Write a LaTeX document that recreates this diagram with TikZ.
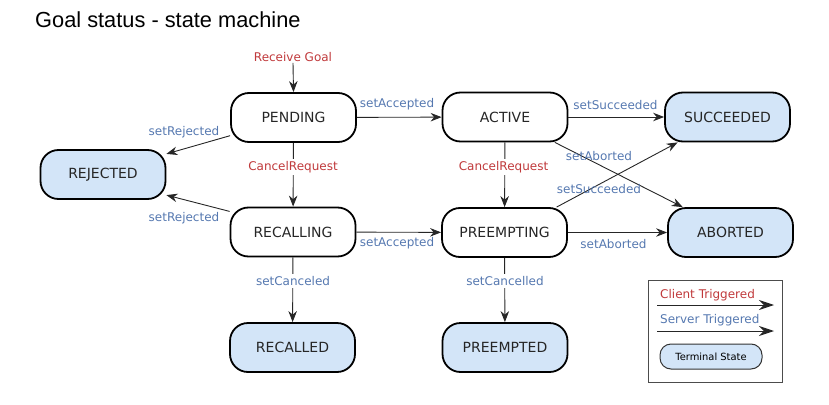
\documentclass[tikz,border=0pt]{standalone}
\usepackage{fontspec}
\setmainfont{DejaVu Sans}
\newfontfamily\titlefont{Liberation Sans}
\usetikzlibrary{arrows.meta}
\definecolor{clientred}{HTML}{C0393B}
\definecolor{serverblue}{HTML}{5578B0}
\definecolor{termfill}{HTML}{D3E5F8}
\begin{document}
\begin{tikzpicture}[x=1pt,y=-1pt,
  state/.style={draw=black,line width=1.8pt,rounded corners=18pt,minimum width=125pt,minimum height=49pt,inner sep=0pt,font=\fontsize{14}{16}\selectfont,text=black!85},
  terminal/.style={state,fill=termfill},
  trans/.style={draw=black!85,line width=0.9pt,-{Stealth[length=11pt,width=8.5pt]}},
  legarrow/.style={draw=black!85,line width=1pt,-{Stealth[length=15pt,width=10pt]}},
  clab/.style={text=clientred,font=\fontsize{12}{14}\selectfont,inner sep=1pt},
  slab/.style={text=serverblue,font=\fontsize{12}{14}\selectfont,inner sep=1pt},
  onl/.style={fill=white,inner sep=2pt}]
\useasboundingbox (0,0) rectangle (829,404);
\node[anchor=west,inner sep=0pt,font=\titlefont\fontsize{21.8}{24}\selectfont] (title) at (35,20) {Goal status - state machine};

\node[state] (pending) at (293.5,117.5) {PENDING};
\node[state] (active) at (505,117) {ACTIVE};
\node[terminal] (succeeded) at (727.5,117) {SUCCEEDED};
\node[terminal] (rejected) at (103,174.5) {REJECTED};
\node[state] (recalling) at (293,232) {RECALLING};
\node[state] (preempting) at (504.5,232.5) {PREEMPTING};
\node[terminal] (aborted) at (730.5,232.5) {ABORTED};
\node[terminal] (recalled) at (292.5,347.5) {RECALLED};
\node[terminal] (preempted) at (505,347.5) {PREEMPTED};

\node[clab] (recv) at (293,57) {Receive Goal};
\draw[trans] (recv.south) -- (pending.north);

\draw[trans] (pending) -- (active);
\node[slab] (lacc1) at (397,104) {setAccepted};
\draw[trans] (pending.196) -- (rejected.18);
\node[slab] (lrej1) at (184,132) {setRejected};
\draw[trans] (pending) -- (recalling);
\node[clab,onl] (lcan1) at (293,167) {CancelRequest};
\draw[trans] (recalling.162) -- (rejected.342);
\node[slab] (lrej2) at (184,218) {setRejected};
\draw[trans] (recalling) -- (preempting);
\node[slab] (lacc2) at (397,243) {setAccepted};
\draw[trans] (recalling) -- (recalled);
\node[slab,onl] (lcd) at (293,281) {setCanceled};

\draw[trans] (active) -- (succeeded);
\node[slab] (lsuc1) at (615.5,105) {setSucceeded};
\draw[trans] (active.-27.5) -- (aborted.152.7);
\node[slab] (labo1) at (599,156) {setAborted};
\draw[trans] (active) -- (preempting);
\node[clab,onl] (lcan2) at (503.5,167) {CancelRequest};
\draw[trans] (preempting.26.8) -- (succeeded.207.8);
\node[slab] (lsuc2) at (599,189) {setSucceeded};
\draw[trans] (preempting) -- (aborted);
\node[slab] (labo2) at (613.5,244) {setAborted};
\draw[trans] (preempting) -- (preempted);
\node[slab,onl] (lcl) at (505,281) {setCancelled};

% legend
\node[draw=black!70,line width=0.9pt,minimum width=134pt,minimum height=102pt,inner sep=0pt] (legend) at (715,331) {};
\node[clab,anchor=west] (lc) at (659,295) {Client Triggered};
\coordinate (lc1) at (657,305);
\coordinate (lc2) at (774,305);
\draw[legarrow] (lc1) -- (lc2);
\node[slab,anchor=west] (ls) at (659,320) {Server Triggered};
\coordinate (ls1) at (657,331);
\coordinate (ls2) at (774,331);
\draw[legarrow] (ls1) -- (ls2);
\node[draw=black!80,line width=1pt,fill=termfill,rounded corners=11pt,minimum width=102pt,minimum height=25pt,inner sep=0pt,font=\fontsize{9.9}{11}\selectfont] (term) at (711,356.5) {Terminal State};
\end{tikzpicture}
\end{document}
